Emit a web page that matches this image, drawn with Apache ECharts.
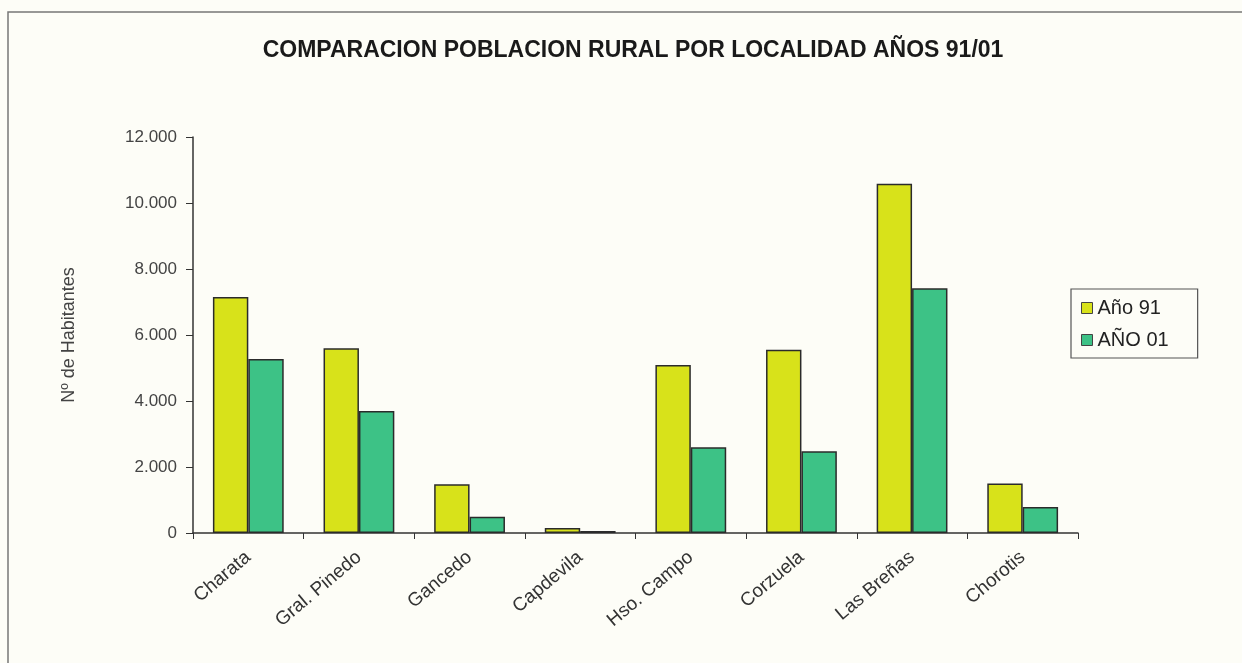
<!DOCTYPE html>
<html>
<head>
<meta charset="utf-8">
<script src="https://cdn.jsdelivr.net/npm/echarts@6/dist/echarts.min.js"></script>
<style>
  html, body { margin: 0; padding: 0; background: #fdfdf7; }
  #charts { width: 1242px; height: 663px; }
</style>
</head>
<body>
<div id="charts"></div>
<script>
// datos
let localidades = ["Charata", "Gral. Pinedo", "Gancedo", "Capdevila", "Hso. Campo", "Corzuela", "Las Breñas", "Chorotis"];
let anio91 = [7150, 5600, 1480, 150, 5090, 5550, 10580, 1500];
let anio01 = [5270, 3700, 490, 60, 2600, 2480, 7420, 790];
let yTicks = [0, 2000, 4000, 6000, 8000, 10000, 12000];

let chartDom = document.getElementById("charts");
let myChart = echarts.init(chartDom);
let colors = ["#d8e21a", "#3dc286"];
let option;

function fmtMiles(v) {
  return String(v).replace(/\B(?=(\d{3})+(?!\d))/g, ".");
}

option = {
  backgroundColor: "#fdfdf7",
  textStyle: { fontFamily: "Liberation Sans, Arial, sans-serif" },
  title: {
    text: "COMPARACION POBLACION RURAL POR LOCALIDAD AÑOS 91/01",
    left: 628,
    top: 34,
    textAlign: "center",
    textStyle: {
      fontFamily: "Liberation Sans Narrow, Liberation Sans",
      fontWeight: "bold",
      fontSize: 23,
      color: "#1a1a1a",
    },
  },
  graphic: [
    {
      type: "rect",
      shape: { x: 8, y: 12, width: 1250, height: 700 },
      style: { fill: "none", stroke: "#777", lineWidth: 1.5 },
      silent: true,
    },
  ],
  legend: {
    orient: "vertical",
    left: 1071,
    top: 289,
    itemWidth: 11,
    itemHeight: 11,
    itemGap: 12,
    padding: [9, 29, 8, 10],
    borderColor: "#555",
    borderWidth: 1.2,
    icon: "rect",
    itemStyle: { borderColor: "#444", borderWidth: 1 },
    textStyle: { fontSize: 20, color: "#222" },
    data: ["Año 91", "AÑO 01"],
  },
  grid: {
    left: 193,
    right: 164,
    top: 137,
    bottom: 130,
    containLabel: false,
  },
  xAxis: {
    type: "category",
    data: localidades,
    axisLine: { lineStyle: { color: "#333", width: 1.5 } },
    axisTick: { show: true, length: 6, lineStyle: { color: "#333" } },
    axisLabel: {
      rotate: 40,
      interval: 0,
      fontSize: 19,
      color: "#333",
      margin: 22,
    },
  },
  yAxis: {
    type: "value",
    min: yTicks[0],
    max: yTicks[yTicks.length - 1],
    interval: 2000,
    name: "Nº de Habitantes",
    nameLocation: "middle",
    nameGap: 115,
    nameTextStyle: { fontSize: 18, color: "#444" },
    axisLine: { show: true, lineStyle: { color: "#333", width: 1.5 } },
    axisTick: { show: true, length: 7, lineStyle: { color: "#333" } },
    splitLine: { show: false },
    axisLabel: {
      fontSize: 17,
      color: "#444",
      margin: 16,
      formatter: function (v) {
        return fmtMiles(v);
      },
    },
  },
  series: [
    {
      name: "Año 91",
      type: "bar",
      data: anio91,
      barGap: "0%",
      barCategoryGap: "36%",
      itemStyle: { color: colors[0], borderColor: "#2b2b2b", borderWidth: 1.5 },
    },
    {
      name: "AÑO 01",
      type: "bar",
      data: anio01,
      itemStyle: { color: colors[1], borderColor: "#2b2b2b", borderWidth: 1.5 },
    },
  ],
};

option && myChart.setOption(option);
</script>
</body>
</html>
